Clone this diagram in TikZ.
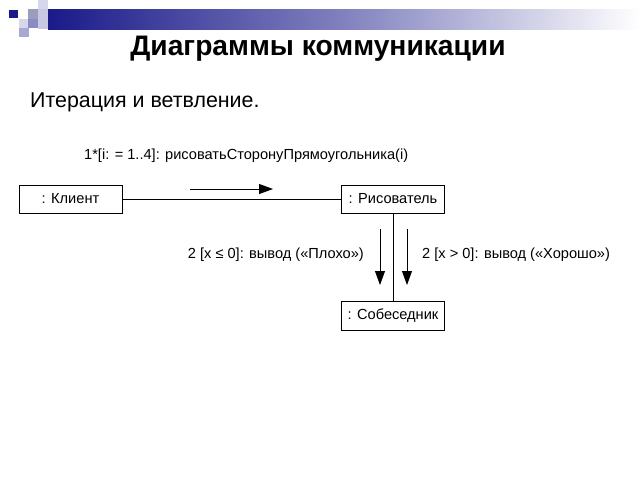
\documentclass[tikz,border=0pt]{standalone}
\usepackage{fontspec}
\setmainfont{Liberation Sans}
\usepackage{xcolor}
\usetikzlibrary{arrows.meta}

\definecolor{navy}{HTML}{1A1A8A}
\definecolor{lavender}{HTML}{A8A8D2}
\definecolor{palelav}{HTML}{D6D6EC}
\definecolor{graylav}{HTML}{9C9CBC}

\tikzset{
	object/.style={draw=black, line width=0.8pt, minimum width=\boxwidth, minimum height=\boxheight, inner sep=0pt, font=\fontsize{14.6}{16}\selectfont},
	msg/.style={inner sep=0pt, font=\fontsize{14.6}{16}\selectfont},
	link/.style={line width=0.8pt},
	msgarrow/.style={line width=0.8pt, -{Triangle[length=14pt, width=10pt]}}
}

\begin{document}
\begin{tikzpicture}[x=1pt, y=-1pt]
	% Parameters
	\def\boxwidth{103pt}
	\def\boxheight{28pt}
	\def\xleft{70.5}
	\def\xright{393}
	\def\yupper{199}
	\def\ylower{316}
	\def\arrowdx{13}
	
	\useasboundingbox (0,0) rectangle (640,480);
	
	%header
	\shade[left color=navy, right color=white, middle color=navy!55!white] (48,9) rectangle (640,29);
	\fill[navy] (9,10) rectangle (18,18);
	\fill[palelav] (38,0) rectangle (48,9);
	\fill[graylav] (28,9) rectangle (38,19);
	\fill[palelav] (19,19) rectangle (28,28);
	\fill[lavender] (19,28) rectangle (29,37);
	\fill[lavender!80!navy] (28,19) rectangle (38,28);
	\fill[palelav!70!lavender] (38,9) rectangle (48,29);
	
	%titles
	\node[inner sep=0pt, anchor=base, font=\fontsize{28.2}{30}\selectfont\bfseries] (title) at (318,55) {Диаграммы коммуникации};
	\node[inner sep=0pt, anchor=base west, font=\fontsize{21.4}{23}\selectfont] (subtitle) at (30,107) {Итерация и ветвление.};
	
	%objects
	\node[object] (client) at (\xleft,\yupper) {: Клиент};
	\node[object] (painter) at (\xright,\yupper) {: Рисователь};
	\node[object, minimum height=29pt] (partner) at (\xright,\ylower) {: Собеседник};
	
	%links
	\draw[link] (client) -- (painter);
	\draw[link] (painter) -- (partner);
	
	%messages
	\coordinate (m1s) at (190,189);
	\coordinate (m1e) at (273,189);
	\coordinate (m2s) at (\xright-\arrowdx,229);
	\coordinate (m2e) at (\xright-\arrowdx,285);
	\coordinate (m3s) at (\xright+\arrowdx+1,229);
	\coordinate (m3e) at (\xright+\arrowdx+1,285);
	\draw[msgarrow] (m1s) -- (m1e);
	\draw[msgarrow] (m2s) -- (m2e);
	\draw[msgarrow] (m3s) -- (m3e);
	
	\node[msg, anchor=base west] (m1) at (84,159) {1*[i: = 1..4]: рисоватьСторонуПрямоугольника(i)};
	\node[msg, anchor=base east] (m2) at (364,258) {2 [x ≤ 0]: вывод («Плохо»)};
	\node[msg, anchor=base west] (m3) at (422,258) {2 [x > 0]: вывод («Хорошо»)};
\end{tikzpicture}
\end{document}
